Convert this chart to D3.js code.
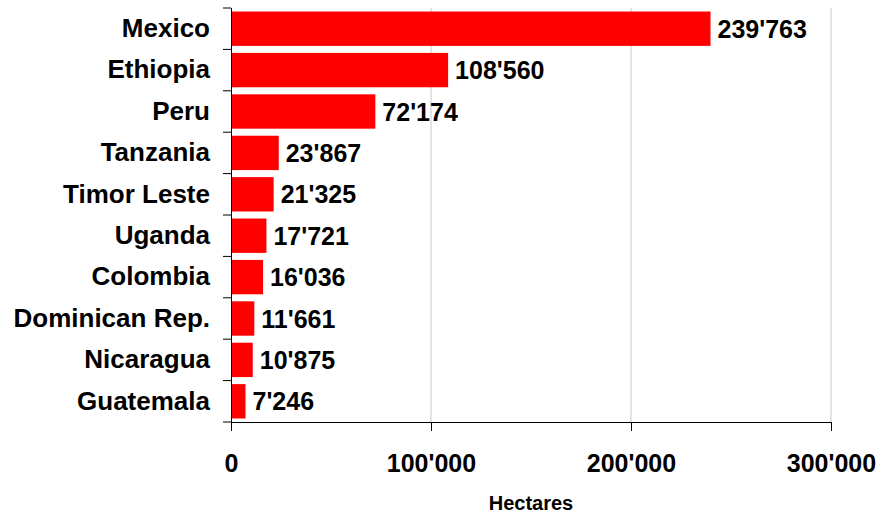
<!DOCTYPE html>
<html>
<head>
<meta charset="utf-8">
<script src="https://cdn.jsdelivr.net/npm/d3@7"></script>
<style>
  body { margin: 0; background: #fff; }
  svg text { font-family: "Liberation Sans", Arial, sans-serif; font-weight: bold; fill: #000; }
</style>
</head>
<body>
<svg id="chart" width="882" height="515"></svg>
<script>
const countries = ["Mexico", "Ethiopia", "Peru", "Tanzania", "Timor Leste", "Uganda",
                   "Colombia", "Dominican Rep.", "Nicaragua", "Guatemala"];
const hectares = [239763, 108560, 72174, 23867, 21325, 17721, 16036, 11661, 10875, 7246];
const xTicks = [0, 100000, 200000, 300000];

const fmt = v => d3.format(",")(v).replace(/,/g, "'");

const svg = d3.select("#chart");
const mLeft = 231, mRight = 831, mTop = 8, mBottom = 422;

const x = d3.scaleLinear().domain([0, 300000]).range([mLeft, mRight]);
const y = d3.scaleBand().domain(countries).range([mTop, mBottom]).paddingInner(0.17).paddingOuter(0.085);

// gridlines
svg.append("g").selectAll("line")
  .data(xTicks.slice(1))
  .enter().append("line")
  .attr("x1", d => x(d)).attr("x2", d => x(d))
  .attr("y1", mTop).attr("y2", mBottom)
  .attr("stroke", "#c8c8c8").attr("stroke-width", 1);

// bars
svg.append("g").selectAll("rect")
  .data(hectares)
  .enter().append("rect")
  .attr("x", x(0))
  .attr("y", (d, i) => y(countries[i]))
  .attr("width", d => x(d) - x(0))
  .attr("height", y.bandwidth())
  .attr("fill", "#ff0000");

// value labels
svg.append("g").selectAll("text")
  .data(hectares)
  .enter().append("text")
  .attr("x", d => x(d) + 7)
  .attr("y", (d, i) => y(countries[i]) + y.bandwidth() / 2)
  .attr("dy", "0.36em")
  .attr("font-size", 25)
  .text(d => fmt(d));

// y axis
const yAxis = svg.append("g")
  .attr("transform", `translate(${mLeft},0)`)
  .call(d3.axisLeft(y).tickSize(0).tickPadding(21));
yAxis.select(".domain").remove();
yAxis.selectAll("text").attr("font-size", 26).style("font-family", "Liberation Sans, Arial, sans-serif").style("font-weight", "bold");

svg.append("line")
  .attr("x1", mLeft + 0.5).attr("x2", mLeft + 0.5)
  .attr("y1", mTop).attr("y2", mBottom)
  .attr("stroke", "#000");

// category separator ticks
const sep = countries.map((c, i) => i === 0 ? mTop : y(c) - y.step() * y.paddingInner() / 2);
sep.push(mBottom);
svg.append("g").selectAll("line")
  .data(sep)
  .enter().append("line")
  .attr("x1", mLeft - 8).attr("x2", mLeft)
  .attr("y1", d => d).attr("y2", d => d)
  .attr("stroke", "#000");

// x axis
const xAxis = svg.append("g")
  .attr("transform", `translate(0,${mBottom})`)
  .call(d3.axisBottom(x).tickValues(xTicks).tickSize(9).tickPadding(23).tickFormat(fmt).tickSizeOuter(0));
xAxis.select(".domain").attr("stroke", "#000");
xAxis.selectAll(".tick line").attr("stroke", "#000");
xAxis.selectAll("text").attr("font-size", 25).style("font-family", "Liberation Sans, Arial, sans-serif").style("font-weight", "bold");

svg.append("text")
  .attr("x", (mLeft + mRight) / 2)
  .attr("y", 510)
  .attr("text-anchor", "middle")
  .attr("font-size", 20)
  .text("Hectares");
</script>
</body>
</html>
